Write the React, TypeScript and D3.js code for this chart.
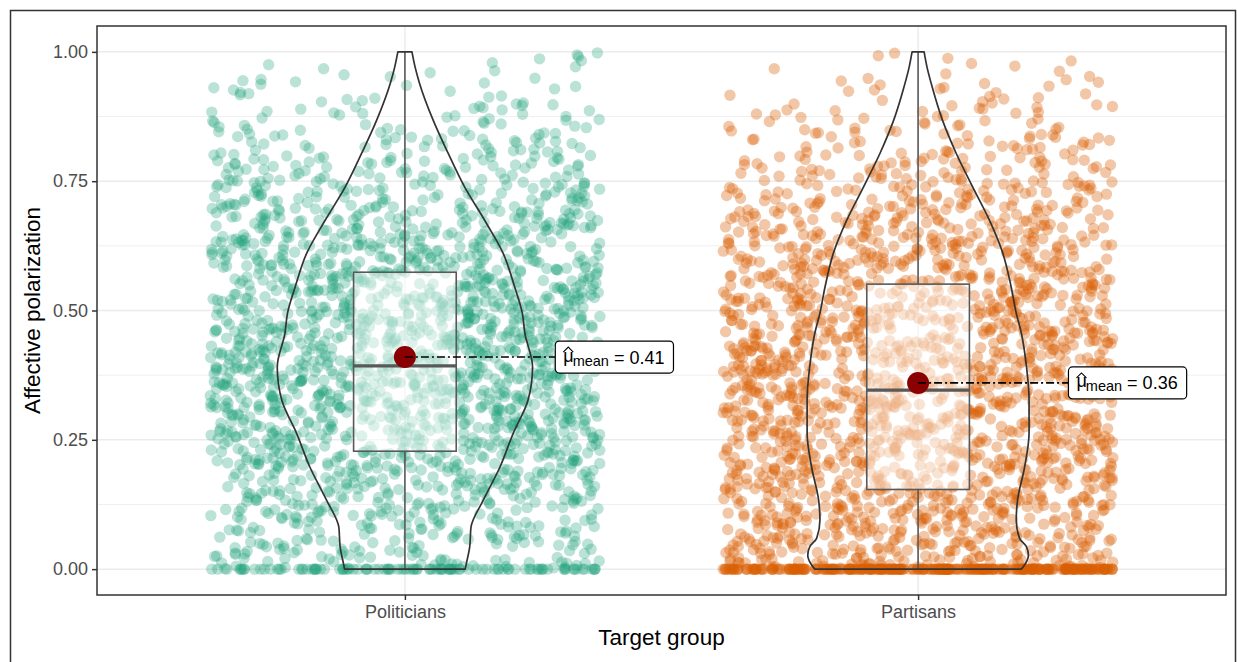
import React, { useRef, useEffect } from "react";
import * as d3 from "d3";

const categories = ["Politicians", "Partisans"];
const colors = ["#1B9E77", "#D95F02"];

// histogram: lower bin edge, bin width 0.05
const binStarts = [0, 0.05, 0.1, 0.15, 0.2, 0.25, 0.3, 0.35, 0.4, 0.45, 0.5, 0.55, 0.6, 0.65, 0.7, 0.75, 0.8, 0.85, 0.9, 0.95];
const politiciansCounts = [72, 78, 94, 112, 134, 146, 160, 165, 160, 153, 148, 135, 122, 103, 83, 68, 49, 35, 22, 13];
const partisansCounts = [125, 125, 130, 135, 142, 144, 144, 142, 137, 130, 124, 117, 107, 92, 75, 60, 44, 31, 20, 10];
const zeroCounts = [100, 300];

// violin outline: value and relative density (1 = widest violin)
const politiciansViolinY = [0, 0.012, 0.043, 0.081, 0.133, 0.197, 0.263, 0.327, 0.391, 0.456, 0.495, 0.546, 0.611, 0.675, 0.739, 0.805, 0.868, 0.94, 0.97, 1.0];
const politiciansViolinD = [0.47, 0.48, 0.505, 0.515, 0.61, 0.74, 0.845, 0.96, 0.995, 0.935, 0.915, 0.855, 0.765, 0.62, 0.465, 0.335, 0.22, 0.113, 0.08, 0.055];
const partisansViolinY = [0, 0.01, 0.027, 0.043, 0.06, 0.095, 0.133, 0.197, 0.263, 0.327, 0.391, 0.456, 0.495, 0.546, 0.611, 0.675, 0.739, 0.805, 0.868, 0.932, 0.97, 1.0];
const partisansViolinD = [0.805, 0.835, 0.86, 0.845, 0.79, 0.765, 0.775, 0.83, 0.865, 0.865, 0.845, 0.805, 0.765, 0.725, 0.66, 0.555, 0.425, 0.295, 0.19, 0.11, 0.07, 0.047];

// box plot statistics
const boxQ1 = [0.228, 0.154];
const boxMedian = [0.393, 0.346];
const boxQ3 = [0.574, 0.551];
const whiskerLow = [0, 0];
const whiskerHigh = [1, 1];
const means = [0.41, 0.36];
const meanLabels = ["0.41", "0.36"];

const yTicks = [0, 0.25, 0.5, 0.75, 1];
const yTickLabels = ["0.00", "0.25", "0.50", "0.75", "1.00"];
const yMinorTicks = [0.125, 0.375, 0.625, 0.875];

const WIDTH = 1237;
const HEIGHT = 662;
const FONT = "'Liberation Sans', Arial, Helvetica, sans-serif";

// deterministic jitter offset in [0,1)
const jit = (i: number, seed: number) => {
  const s = Math.sin(i * 12.9898 + seed * 78.233) * 43758.5453;
  return s - Math.floor(s);
};

const App: React.FC = () => {
  const svgRef = useRef<SVGSVGElement>(null);

  useEffect(() => {
    if (!svgRef.current) return;
    const svg = d3.select(svgRef.current);
    svg.selectAll("*").remove();

    const panel = { left: 97, right: 1226, top: 26, bottom: 595 };

    const x = d3
      .scalePoint<string>()
      .domain(categories)
      .range([panel.left, panel.right])
      .padding(0.6);
    const step = x.step();

    const y = d3.scaleLinear().domain([-0.05, 1.05]).range([panel.bottom, panel.top]);

    // outer frame
    svg
      .append("rect")
      .attr("x", 10.5)
      .attr("y", 10.5)
      .attr("width", 1225)
      .attr("height", 700)
      .attr("fill", "none")
      .attr("stroke", "#333")
      .attr("stroke-width", 1.5);

    // grid
    const grid = svg.append("g");
    grid
      .selectAll(".minor")
      .data(yMinorTicks)
      .join("line")
      .attr("x1", panel.left)
      .attr("x2", panel.right)
      .attr("y1", (d) => y(d))
      .attr("y2", (d) => y(d))
      .attr("stroke", "#ebebeb")
      .attr("stroke-width", 0.8);
    grid
      .selectAll(".major")
      .data(yTicks)
      .join("line")
      .attr("x1", panel.left)
      .attr("x2", panel.right)
      .attr("y1", (d) => y(d))
      .attr("y2", (d) => y(d))
      .attr("stroke", "#ebebeb")
      .attr("stroke-width", 1.5);
    grid
      .selectAll(".vmajor")
      .data(categories)
      .join("line")
      .attr("x1", (d) => x(d) as number)
      .attr("x2", (d) => x(d) as number)
      .attr("y1", panel.top)
      .attr("y2", panel.bottom)
      .attr("stroke", "#ebebeb")
      .attr("stroke-width", 1.5);

    // jittered points
    const counts = [politiciansCounts, partisansCounts];
    type Pt = { g: number; v: number; k: number };
    const pts: Pt[] = [];
    categories.forEach((_, g) => {
      let k = 0;
      for (let z = 0; z < zeroCounts[g]; z++) pts.push({ g, v: 0, k: k++ });
      counts[g].forEach((c, b) => {
        for (let j = 0; j < c; j++) {
          pts.push({ g, v: binStarts[b] + ((j + 0.5) / c) * 0.05, k: k++ });
        }
      });
    });

    svg
      .append("g")
      .selectAll("circle")
      .data(pts)
      .join("circle")
      .attr("cx", (d) => (x(categories[d.g]) as number) + (jit(d.k, d.g + 1) * 2 - 1) * 0.38 * step)
      .attr("cy", (d) => y(d.v))
      .attr("r", 5.7)
      .attr("fill", (d) => colors[d.g])
      .attr("fill-opacity", (d) => (d.g === 0 ? 0.3 : 0.35));

    // boxes
    const boxW = 0.2 * step;
    const boxes = svg.append("g");
    categories.forEach((cat, g) => {
      const cx = x(cat) as number;
      boxes
        .append("line")
        .attr("x1", cx)
        .attr("x2", cx)
        .attr("y1", y(boxQ3[g]))
        .attr("y2", y(whiskerHigh[g]))
        .attr("stroke", "#595959")
        .attr("stroke-width", 1.6);
      boxes
        .append("line")
        .attr("x1", cx)
        .attr("x2", cx)
        .attr("y1", y(boxQ1[g]))
        .attr("y2", y(whiskerLow[g]))
        .attr("stroke", "#595959")
        .attr("stroke-width", 1.6);
      boxes
        .append("rect")
        .attr("x", cx - boxW / 2)
        .attr("y", y(boxQ3[g]))
        .attr("width", boxW)
        .attr("height", y(boxQ1[g]) - y(boxQ3[g]))
        .attr("fill", "#ffffff")
        .attr("fill-opacity", 0.5)
        .attr("stroke", "#595959")
        .attr("stroke-width", 1.6);
      boxes
        .append("line")
        .attr("x1", cx - boxW / 2)
        .attr("x2", cx + boxW / 2)
        .attr("y1", y(boxMedian[g]))
        .attr("y2", y(boxMedian[g]))
        .attr("stroke", "#595959")
        .attr("stroke-width", 3.2);
    });

    // violins
    const wScale = d3.scaleLinear().domain([0, 1]).range([0, 0.25 * step]);
    const violinYs = [politiciansViolinY, partisansViolinY];
    const violinDs = [politiciansViolinD, partisansViolinD];
    categories.forEach((cat, g) => {
      const cx = x(cat) as number;
      const vd = violinYs[g].map((v, i) => ({ v, d: violinDs[g][i] }));
      const area = d3
        .area<{ v: number; d: number }>()
        .y((d) => y(d.v))
        .x0((d) => cx - wScale(d.d))
        .x1((d) => cx + wScale(d.d))
        .curve(d3.curveMonotoneY);
      svg
        .append("path")
        .attr("d", area(vd) as string)
        .attr("fill", "none")
        .attr("stroke", "#333333")
        .attr("stroke-width", 1.7)
        .attr("stroke-linejoin", "round");
    });

    // means with labels
    categories.forEach((cat, g) => {
      const cx = x(cat) as number;
      const my = y(means[g]);
      const lx = cx + 0.293 * step;
      svg
        .append("circle")
        .attr("cx", cx)
        .attr("cy", my)
        .attr("r", 11)
        .attr("fill", "#8B0000");
      svg
        .append("line")
        .attr("x1", cx)
        .attr("x2", lx)
        .attr("y1", my)
        .attr("y2", my)
        .attr("stroke", "#000")
        .attr("stroke-width", 1.6)
        .attr("stroke-dasharray", "8,3,2,3");

      const lab = svg.append("g").attr("transform", `translate(${lx},${my})`);
      const rect = lab
        .append("rect")
        .attr("y", -16)
        .attr("height", 32)
        .attr("rx", 4)
        .attr("fill", "#fff")
        .attr("stroke", "#000")
        .attr("stroke-width", 1.2);
      const txt = lab
        .append("text")
        .attr("x", 8)
        .attr("y", 6.5)
        .attr("font-family", FONT)
        .attr("font-size", 18)
        .attr("fill", "#000");
      txt.append("tspan").attr("dy", -2).text("μ");
      txt.append("tspan").attr("dy", 4).attr("dx", -1).attr("font-size", 14.5).text("mean");
      txt.append("tspan").attr("dy", -2).text("\u00a0=\u00a0" + meanLabels[g]);
      lab
        .append("path")
        .attr("d", "M8,-5 L13,-10 L18,-5")
        .attr("fill", "none")
        .attr("stroke", "#000")
        .attr("stroke-width", 1.1);
      const bb = (txt.node() as SVGTextElement).getBBox();
      rect.attr("width", bb.x + bb.width + 9);
    });

    // panel border
    svg
      .append("rect")
      .attr("x", panel.left)
      .attr("y", panel.top)
      .attr("width", panel.right - panel.left)
      .attr("height", panel.bottom - panel.top)
      .attr("fill", "none")
      .attr("stroke", "#333333")
      .attr("stroke-width", 1.5);

    // axes
    const yAxis = svg
      .append("g")
      .attr("transform", `translate(${panel.left},0)`)
      .call(
        d3
          .axisLeft(y)
          .tickValues(yTicks)
          .tickSize(5)
          .tickPadding(4)
          .tickFormat((_, i) => yTickLabels[i])
      );
    yAxis.select(".domain").remove();
    yAxis.selectAll(".tick line").attr("stroke", "#333").attr("stroke-width", 1.5);
    yAxis
      .selectAll(".tick text")
      .attr("font-family", FONT)
      .attr("font-size", 18)
      .attr("fill", "#4d4d4d");

    const xAxis = svg
      .append("g")
      .attr("transform", `translate(0,${panel.bottom})`)
      .call(d3.axisBottom(x).tickSize(5).tickPadding(5));
    xAxis.select(".domain").remove();
    xAxis.selectAll(".tick line").attr("stroke", "#333").attr("stroke-width", 1.5);
    xAxis
      .selectAll(".tick text")
      .attr("font-family", FONT)
      .attr("font-size", 18)
      .attr("fill", "#4d4d4d");

    svg
      .append("text")
      .attr("x", (panel.left + panel.right) / 2)
      .attr("y", 645)
      .attr("text-anchor", "middle")
      .attr("font-family", FONT)
      .attr("font-size", 22.5)
      .attr("fill", "#000")
      .text("Target group");

    svg
      .append("text")
      .attr("transform", `translate(40,${(panel.top + panel.bottom) / 2}) rotate(-90)`)
      .attr("text-anchor", "middle")
      .attr("font-family", FONT)
      .attr("font-size", 22.5)
      .attr("fill", "#000")
      .text("Affective polarization");
  }, []);

  return (
    <svg
      ref={svgRef}
      width={WIDTH}
      height={HEIGHT}
      style={{ position: "absolute", left: 0, top: 0, background: "#fff" }}
    ></svg>
  );
};

export default App;
